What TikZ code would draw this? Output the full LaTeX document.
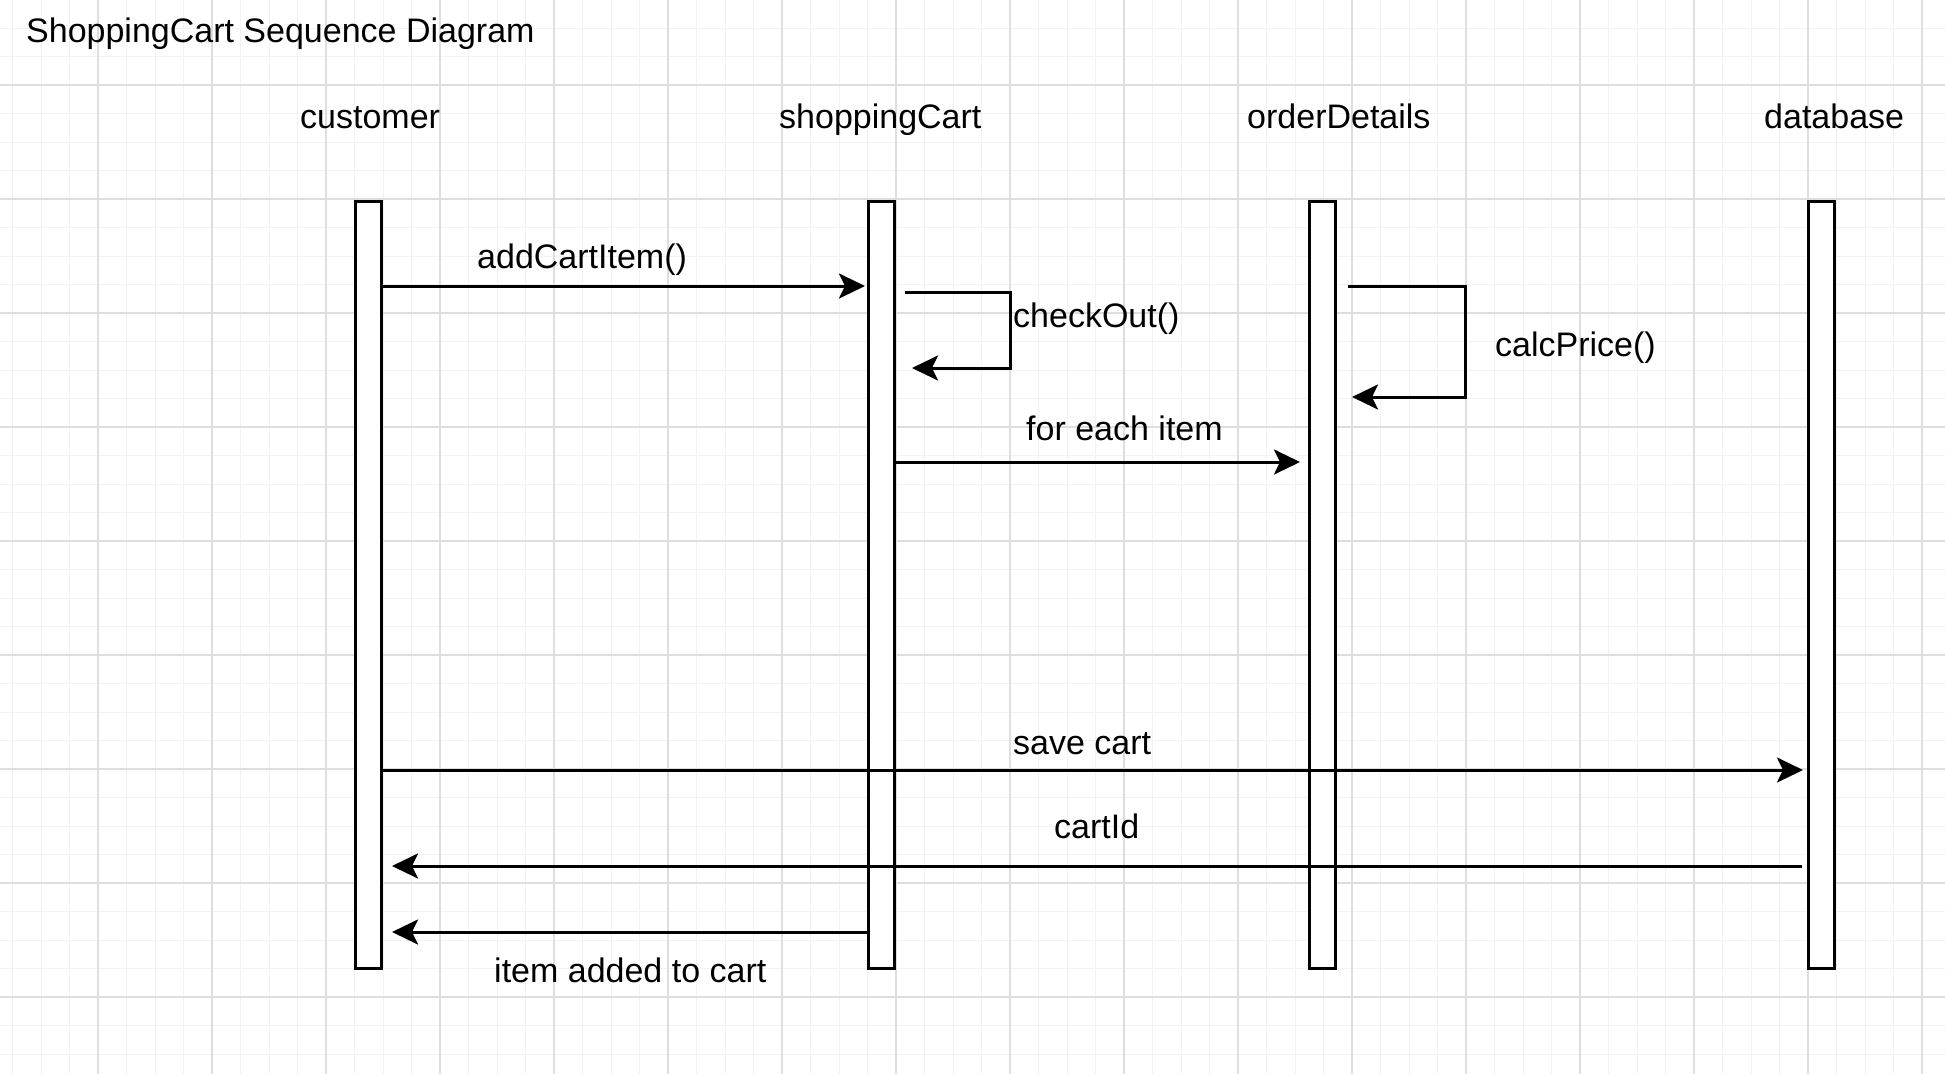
\documentclass[tikz,border=0pt]{standalone}
\usepackage{fontspec}
\setmainfont{Liberation Sans}
\usetikzlibrary{arrows.meta}
\tikzset{
  minorgrid/.style={draw=black!5, line width=1pt},
  majorgrid/.style={draw=black!13, line width=1.2pt},
  lifebox/.style={draw=black, fill=white, line width=3pt, minimum width=26pt, minimum height=767pt, inner sep=0pt},
  lbl/.style={inner sep=0pt, anchor=base west, font=\fontsize{34pt}{40pt}\selectfont},
  msg/.style={draw=black, line width=3pt, -{Stealth[length=26pt,width=25pt,inset=6pt]}},
}
\begin{document}
\begin{tikzpicture}[x=1pt,y=-1pt]
\useasboundingbox (0,0) rectangle (1945,1074);
\fill[white] (0,0) rectangle (1945,1074);
% grid
\foreach \i in {0,...,67} { \draw[minorgrid] ({12.5+\i*28.5},0) -- ++(0,1074); }
\foreach \j in {0,...,36} { \draw[minorgrid] (0,{28+\j*28.5}) -- ++(1945,0); }
\foreach \k in {0,...,16} { \draw[majorgrid] ({98+\k*114},0) -- ++(0,1074); }
\foreach \k in {0,...,8} { \draw[majorgrid] (0,{85+\k*114}) -- ++(1945,0); }
% title and headers
\node[lbl] (title) at (26,42) {ShoppingCart Sequence Diagram};
\node[lbl] (hcust) at (300,128) {customer};
\node[lbl] (hcart) at (779,128) {shoppingCart};
\node[lbl] (hord) at (1247,128) {orderDetails};
\node[lbl] (hdb) at (1764,128) {database};
% lifeline boxes
\node[lifebox] (cust) at (368.5,585) {};
\node[lifebox] (cart) at (881.5,585) {};
\node[lifebox] (ord) at (1322.5,585) {};
\node[lifebox] (db) at (1821.5,585) {};
% messages
\draw[msg] (cust.east |- 0,286) -- ([xshift=-2pt]cart.west |- 0,286);
\node[lbl] (l1) at (477,268) {addCartItem()};
% checkOut loop
\coordinate (co1) at (905,292);
\coordinate (co2) at (912,368);
\draw[msg] (co1) -- (1010,292) -- (1010,368) -- (co2);
\node[lbl] (l2) at (1013,327) {checkOut()};
% calcPrice loop
\coordinate (cp1) at (1348,286);
\coordinate (cp2) at (1352,397);
\draw[msg] (cp1) -- (1465,286) -- (1465,397) -- (cp2);
\node[lbl] (l3) at (1495,356) {calcPrice()};
% for each item
\draw[msg] (cart.east |- 0,462) -- ([xshift=-8pt]ord.west |- 0,462);
\node[lbl] (l4) at (1026,440) {for each item};
% save cart
\draw[msg] (cust.east |- 0,770) -- ([xshift=-4pt]db.west |- 0,770);
\node[lbl] (l5) at (1013,754) {save cart};
% cartId
\draw[msg] ([xshift=-5pt]db.west |- 0,866) -- ([xshift=9pt]cust.east |- 0,866);
\node[lbl] (l6) at (1054,838) {cartId};
% item added to cart
\draw[msg] (cart.west |- 0,932) -- ([xshift=9pt]cust.east |- 0,932);
\node[lbl] (l7) at (494,982) {item added to cart};
\end{tikzpicture}
\end{document}
